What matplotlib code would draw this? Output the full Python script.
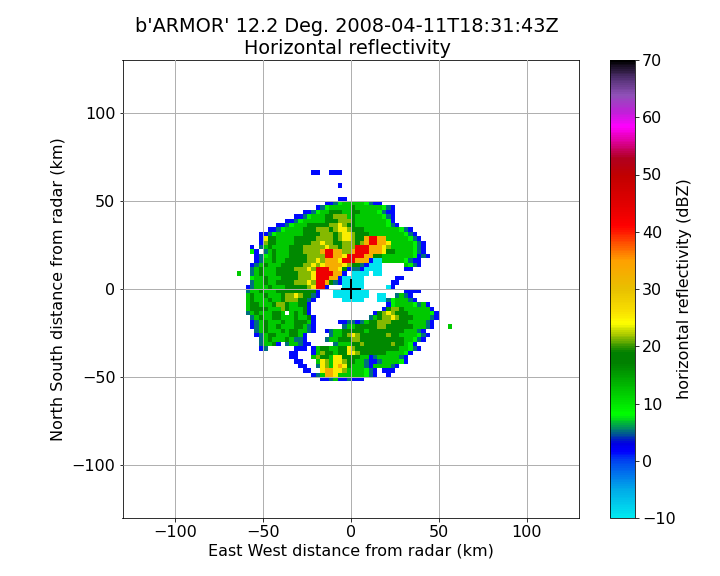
import numpy as np
import matplotlib
matplotlib.use("Agg")
import matplotlib.pyplot as plt
from matplotlib.colors import LinearSegmentedColormap

TITLE = "b'ARMOR' 12.2 Deg. 2008-04-11T18:31:43Z\nHorizontal reflectivity"
XLABEL = "East West distance from radar (km)"
YLABEL = "North South distance from radar (km)"
CBLABEL = "horizontal reflectivity (dBZ)"
TICKS = [-100, -50, 0, 50, 100]
CB_TICKS = [-10, 0, 10, 20, 30, 40, 50, 60, 70]

# dBZ class of each letter in the map below, read against the colour bar
LEVELS = {"c": -9.5, "b": 1.5, "t": 5, "l": 9, "g": 12, "d": 16.5, "v": 21.5,
          "y": 25, "o": 33, "r": 43}

# reflectivity: 2.5 km cells, west edge -65 km, north edge 70 km
FIELD = [
 "",
 ".................bb..bbb",
 "",
 "",
 ".......................b",
 "",
 "",
 ".......................bb",
 "....................bbtlgggggltbb",
 "..................btlgggggdggggggltb",
 "...............bbtlggdddggddggggltbb",
 ".............bbtlgggddvvvgdggggggltb",
 "...........bbtlgggggdddvvvdggggggglb",
 ".........bbtlgggdddddvvyvddgggggggltb",
 ".......bbtlggggdddvvvdvyyvdddggggggggltb",
 ".....bbtlggggggddddvvvdvyyvdddggggggggltb",
 ".....byddggggdddddvvvvdvyyvddorroogggggltb",
 ".....bvddggggddddvvyvvddvvvdvorrooygggggltb",
 "...b.tgdggggdddvvvvvyvvdvvvrrroooyvgggggltb",
 "...lb.tgdgggdddvvvvorroovvorrroooyddggggltb",
 "....btlgdgggddddvvvvrrooyrrrrooddggggggglbtb",
 "....btggdggdddddvvyvoooyrrrooobccgggggltbb",
 "...btgdgggdddddvvyvyooooyvddtbccc.....gltb",
 "...tgdgggddddvvvyvrrrooydbttbcccc.....bb",
 "g..tgdgggdddddvvvyrrrroob.cccc.cc",
 "...lggdgggddddvvvyrrroobccccc.......bb",
 "...tggdggddddvvvyvrrodtbccccc......bb",
 "..btgggdgggdddddvyrrb...ccccc.....cb",
 "..tggdgggdddddddddb...cccccccc........bbbb",
 "..gdggdgggdvvyvddtb...cccccccc..cc..tgtb",
 "..gdgggdggdvvvddtb......ccccc...cctlgggtb",
 "..gddgggdvvdggddb.................blggggltgb",
 "..gddddgggvdgggdb................bdvvdggggggb",
 "..tgdgggddg.gdgdb..............bdvyvdddggggglb",
 "...tgdggddgggdggdb............tgdvvyvdddggggtb",
 "...btgdgggdggdddgb.....bbttbtgddvvvddddggggtb",
 "...btgdggdgggddgtb......tggdddddvvddddddgggtb...g",
 "....tgdgggdgddggtb..btggdddddgddddddddgggtb",
 "....btgddgggddgb.....tggdvyvddddddvddggggltb",
 ".....tgdgggdgttb....tggdddvvddddddddddggltb",
 ".....tggdb.tggtbb.....tgggddvddddddvddglb",
 ".....bt......bbb.bgddggddyvddddddddddggltb",
 "............bb...bgvddgddyyvddddddgggglb",
 "............bb...gvddgyyddddggbtgggggtb",
 ".............bb...gyvgyyvddggtbbtgggglb",
 "..............bb..tyvgyoydgggtbggggtb",
 "...............bb..yooyyvggggltb.bbb",
 ".................btgooyggggggltb..b",
 "...................bbtgbbtbbb",
]

NCOLS = 50
CELL = 2.5
WEST = -65.0
NORTH = 70.0

grid = np.full((len(FIELD), NCOLS), np.nan)
for r, row in enumerate(FIELD):
    for c, ch in enumerate(row):
        if ch in LEVELS:
            grid[r, c] = LEVELS[ch]
xedges = WEST + CELL * np.arange(NCOLS + 1)
yedges = NORTH - CELL * np.arange(len(FIELD) + 1)

stops = [(-10, "#00e8f0"), (-5, "#00a8e8"), (0, "#0040f0"), (1.5, "#0000ff"), (3, "#0000e0"),
         (5, "#006c80"), (7, "#00d020"), (8, "#00ff00"), (12, "#00c800"), (17, "#008000"),
         (19, "#008000"), (22, "#a8c800"), (24, "#ffff00"), (26, "#f8e000"), (30, "#e8c000"),
         (35, "#ffa000"), (38, "#ff5000"), (41, "#ff0000"), (45, "#e00000"), (50, "#c00000"),
         (53, "#b00020"), (56, "#e000a0"), (58.5, "#ff00ff"), (61, "#c020d8"), (64, "#9050b8"),
         (67, "#503070"), (70, "#000000")]
cmap = LinearSegmentedColormap.from_list(
    "refl", [((v + 10) / 80, c) for v, c in stops], N=256)

fig = plt.figure(figsize=(10, 8), dpi=72)
ax = fig.add_axes([122.5 / 720, 58 / 576, 457 / 720, 458 / 576])
mesh = ax.pcolormesh(xedges, yedges, np.ma.masked_invalid(grid), cmap=cmap, vmin=-10, vmax=70)
ax.plot([0], [0], marker="+", color="k", ms=20, mew=2, ls="none", zorder=5)
ax.set_xlim(-130, 130)
ax.set_ylim(-130, 130)
ax.set_xticks(TICKS)
ax.set_yticks(TICKS)
ax.grid(True, color="#b0b0b0", lw=1, zorder=4)
ax.set_axisbelow(False)
ax.tick_params(labelsize=16)
ax.set_xlabel(XLABEL, fontsize=16)
ax.set_ylabel(YLABEL, fontsize=16, labelpad=6)
ax.set_title(TITLE, fontsize=19.2, x=0.4915)

cax = fig.add_axes([610 / 720, 58 / 576, 25 / 720, 458 / 576])
cb = fig.colorbar(mesh, cax=cax, ticks=CB_TICKS)
cb.ax.tick_params(labelsize=16)
cb.set_label(CBLABEL, fontsize=16, labelpad=1)

fig.savefig("out.png", dpi=72)
